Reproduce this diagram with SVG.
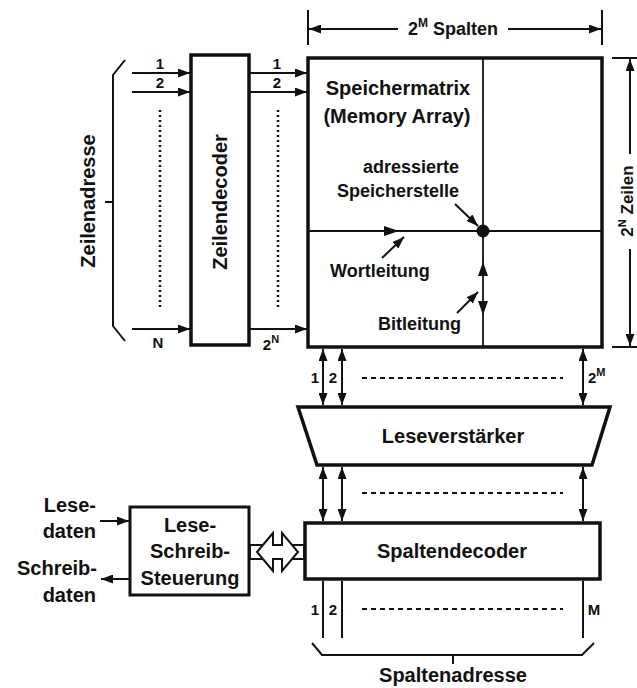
<svg xmlns="http://www.w3.org/2000/svg" width="637" height="688" viewBox="0 0 637 688">
<style>
  text { font-family: "Liberation Sans", Arial, sans-serif; font-weight: bold; fill: #111; }
  .box { fill: #fff; stroke: #111; stroke-width: 3.5; }
  .ln { fill: none; stroke: #111; stroke-width: 2; }
  .thin { fill: none; stroke: #111; stroke-width: 1.8; }
  .arr { fill: none; stroke: #111; stroke-width: 2; marker-end: url(#ah); }
  .darr { fill: none; stroke: #111; stroke-width: 2; marker-start: url(#ah); marker-end: url(#ah); }
  .dash { fill: none; stroke: #111; stroke-width: 2; stroke-dasharray: 5 4; }
  .dot { fill: none; stroke: #111; stroke-width: 2.5; stroke-dasharray: 2 3; }
  .big { font-size: 20px; }
  .mid { font-size: 18px; }
  .sm { font-size: 15px; }
</style>
<defs>
  <marker id="ah" viewBox="0 0 12 9" refX="12" refY="4.5" markerWidth="12" markerHeight="9" markerUnits="userSpaceOnUse" orient="auto-start-reverse">
    <path d="M0,0 L12,4.5 L0,9 z" fill="#111"/>
  </marker>
</defs>

<g id="memory-array">
  <rect class="box" x="308" y="58" width="294" height="289"/>
  <line class="thin" x1="483" y1="58" x2="483" y2="347"/>
  <line class="thin" x1="308" y1="231" x2="602" y2="231"/>
  <circle cx="483" cy="231" r="6.5" fill="#111"/>
  <polygon points="384,226 399,231 384,236" fill="#111"/>
  <polygon points="478,276 483,262 488,276" fill="#111"/>
  <polygon points="478,301 483,315 488,301" fill="#111"/>
  <text class="big" x="398" y="95" text-anchor="middle">Speichermatrix</text>
  <text class="big" x="397" y="123" text-anchor="middle">(Memory Array)</text>
  <text class="mid" x="459" y="173" text-anchor="end">adressierte</text>
  <text class="mid" x="459" y="197" text-anchor="end">Speicherstelle</text>
  <text class="mid" x="330" y="277">Wortleitung</text>
  <text class="mid" x="378" y="330">Bitleitung</text>
</g>

<g id="zeilendecoder">
  <rect class="box" x="191" y="55" width="58" height="290"/>
  <text class="big" transform="translate(227,202) rotate(-90)" text-anchor="middle">Zeilendecoder</text>
</g>

<g id="zeilenadresse">
  <path class="ln" d="M125,60 L113,75 L113,326 L125,341 M113,202 L105,202"/>
  <text class="big" transform="translate(95,201) rotate(-90)" text-anchor="middle">Zeilenadresse</text>
</g>

<g id="leseverstaerker">
  <polygon class="box" points="298,407 610,407 592,465 317,465"/>
  <text class="big" x="453" y="443" text-anchor="middle">Leseverstärker</text>
</g>

<g id="spaltendecoder">
  <rect class="box" x="305" y="523" width="295" height="56"/>
  <text class="big" x="452" y="558" text-anchor="middle">Spaltendecoder</text>
</g>

<g id="lese-schreib-steuerung">
  <rect class="box" x="130" y="507" width="119" height="88" style="stroke-width:3"/>
  <text class="big" x="190" y="532" text-anchor="middle">Lese-</text>
  <text class="big" x="190" y="558" text-anchor="middle">Schreib-</text>
  <text class="big" x="190" y="585" text-anchor="middle">Steuerung</text>
</g>

<g id="spaltenadresse">
  <path class="ln" d="M312,643 L322,655 L582,655 L594,643 M453,655 L453,664"/>
  <text class="big" x="453" y="682" text-anchor="middle">Spaltenadresse</text>
</g>

<g id="dimensions">
  <line class="ln" x1="308" y1="10" x2="308" y2="45"/>
  <line class="ln" x1="602" y1="10" x2="602" y2="45"/>
  <line class="arr" x1="398" y1="29" x2="309" y2="29"/>
  <line class="arr" x1="508" y1="29" x2="601" y2="29"/>
  <text style="font-size:18px" x="453" y="35" text-anchor="middle">2<tspan style="font-size:12px" dy="-8">M</tspan><tspan dy="8"> Spalten</tspan></text>
  <line class="ln" x1="612" y1="58" x2="637" y2="58"/>
  <line class="ln" x1="612" y1="347" x2="637" y2="347"/>
  <line class="arr" x1="630" y1="154" x2="630" y2="59"/>
  <line class="arr" x1="630" y1="249" x2="630" y2="346"/>
  <text style="font-size:17px" transform="translate(633,201) rotate(-90)" text-anchor="middle">2<tspan style="font-size:11px" dy="-7">N</tspan><tspan dy="7"> Zeilen</tspan></text>
</g>

<g id="connectors">
  <!-- row address inputs -->
  <line class="arr" x1="132" y1="73" x2="190" y2="73"/>
  <line class="arr" x1="132" y1="92" x2="190" y2="92"/>
  <line class="arr" x1="132" y1="329" x2="190" y2="329"/>
  <line class="dot" x1="160" y1="110" x2="160" y2="310"/>
  <text class="sm" x="160" y="69" text-anchor="middle">1</text>
  <text class="sm" x="160" y="88" text-anchor="middle">2</text>
  <text class="sm" x="158" y="348" text-anchor="middle">N</text>
  <!-- word lines -->
  <line class="arr" x1="250" y1="73" x2="307" y2="73"/>
  <line class="arr" x1="250" y1="92" x2="307" y2="92"/>
  <line class="arr" x1="250" y1="329" x2="307" y2="329"/>
  <line class="dot" x1="278" y1="110" x2="278" y2="310"/>
  <text class="sm" x="277" y="69" text-anchor="middle">1</text>
  <text class="sm" x="277" y="88" text-anchor="middle">2</text>
  <text class="sm" x="271" y="350" text-anchor="middle">2<tspan style="font-size:11px" dy="-7">N</tspan></text>
  <!-- pointers -->
  <line class="arr" x1="455" y1="204" x2="478" y2="226"/>
  <line class="arr" x1="382" y1="258" x2="404" y2="237"/>
  <line class="arr" x1="457" y1="313" x2="478" y2="292"/>
  <!-- bit lines to sense amp -->
  <line class="darr" x1="323" y1="349" x2="323" y2="405"/>
  <line class="darr" x1="342" y1="349" x2="342" y2="405"/>
  <line class="darr" x1="583" y1="349" x2="583" y2="405"/>
  <line class="dash" x1="362" y1="378" x2="563" y2="378"/>
  <text class="sm" x="315" y="383" text-anchor="middle">1</text>
  <text class="sm" x="333" y="383" text-anchor="middle">2</text>
  <text class="sm" x="588" y="383">2<tspan style="font-size:11px" dy="-7">M</tspan></text>
  <!-- sense amp to column decoder -->
  <line class="darr" x1="323" y1="467" x2="323" y2="521"/>
  <line class="darr" x1="342" y1="467" x2="342" y2="521"/>
  <line class="darr" x1="583" y1="467" x2="583" y2="521"/>
  <line class="dash" x1="362" y1="493" x2="563" y2="493"/>
  <!-- column address lines -->
  <line class="ln" x1="323" y1="581" x2="323" y2="638"/>
  <line class="ln" x1="342" y1="581" x2="342" y2="638"/>
  <line class="ln" x1="583" y1="581" x2="583" y2="638"/>
  <line class="dash" x1="362" y1="609" x2="563" y2="609"/>
  <text class="sm" x="315" y="615" text-anchor="middle">1</text>
  <text class="sm" x="333" y="615" text-anchor="middle">2</text>
  <text class="sm" x="594" y="615" text-anchor="middle">M</text>
  <!-- data in/out -->
  <line class="arr" x1="100" y1="521" x2="129" y2="521"/>
  <line class="arr" x1="130" y1="579" x2="101" y2="579"/>
  <text class="big" x="96" y="512" text-anchor="end">Lese-</text>
  <text class="big" x="96" y="538" text-anchor="end">daten</text>
  <text class="big" x="97" y="575" text-anchor="end">Schreib-</text>
  <text class="big" x="96" y="602" text-anchor="end">daten</text>
  <!-- hollow double arrow -->
  <rect x="250" y="545" width="54" height="14" fill="#fff" stroke="#111" stroke-width="2"/>
  <polygon points="257,552 273,533 273,545 282,545 282,533 298,552 282,571 282,559 273,559 273,571" fill="#fff" stroke="#111" stroke-width="2" stroke-linejoin="miter"/>
</g>
</svg>
